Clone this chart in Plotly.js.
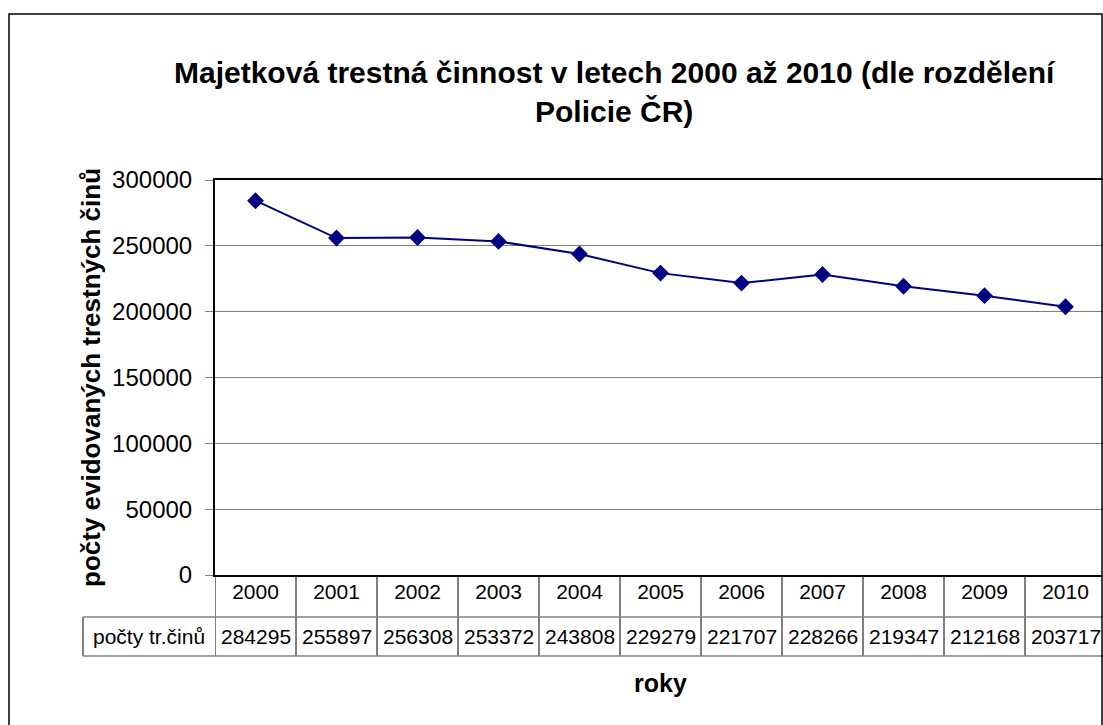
<!DOCTYPE html>
<html>
<head>
<meta charset="utf-8">
<script src="https://cdn.plot.ly/plotly-3.0.1.min.js"></script>
<style>
html,body{margin:0;padding:0;overflow:hidden;background:#fff;}
#chart{width:1103px;height:725px;}
</style>
</head>
<body>
<div id="chart"></div>
<script>
const years = ["2000","2001","2002","2003","2004","2005","2006","2007","2008","2009","2010"];
const crimes = [284295,255897,256308,253372,243808,229279,221707,228266,219347,212168,203717];
const rowLabel = "počty tr.činů";
const titleText = "Majetková trestná činnost v letech 2000 až 2010 (dle rozdělení<br>Policie ČR)";
const yTitle = "počty evidovaných trestných činů";
const xTitle = "roky";

const FONT = "Liberation Sans, Arial, sans-serif";
const plotTop = 180, plotBottom = 575, plotLeft = 215;
const plotH = plotBottom - plotTop;
const py = p => (plotBottom - p) / plotH; // pixel row -> paper y
const plotW = 1103 - plotLeft;
const px = p => (p - plotLeft) / plotW;

const shapes = [];
const annotations = [];
const row1Bottom = py(617), row2Bottom = py(656);

// vertical cell borders
for (let i = 0; i <= years.length; i++) {
  shapes.push({type:'line', xref:'x', yref:'paper', x0:i-0.5, x1:i-0.5, y0:0, y1:row2Bottom,
    line:{color:'#000', width:1}});
}
// label cell left border
shapes.push({type:'line', xref:'paper', yref:'paper', x0:px(83), x1:px(83), y0:row1Bottom, y1:row2Bottom, line:{color:'#000', width:1}});
// horizontal row borders
shapes.push({type:'line', xref:'paper', yref:'paper', x0:px(83), x1:1.01, y0:row1Bottom, y1:row1Bottom, line:{color:'#808080', width:1.5}});
shapes.push({type:'line', xref:'paper', yref:'paper', x0:px(83), x1:1.01, y0:row2Bottom, y1:row2Bottom, line:{color:'#808080', width:1.5}});
// outer chart frame
shapes.push({type:'rect', xref:'paper', yref:'paper', x0:px(9), x1:px(1102), y0:py(14), y1:py(760),
  line:{color:'#000', width:1.5}, fillcolor:'rgba(0,0,0,0)'});

// value row
crimes.forEach((v, i) => {
  annotations.push({xref:'x', yref:'paper', x:i, y:(row1Bottom+row2Bottom)/2, text:String(v),
    showarrow:false, font:{family:FONT, size:21, color:'#000'}, xanchor:'center', yanchor:'middle'});
});
annotations.push({xref:'paper', yref:'paper', x:px(149), y:(row1Bottom+row2Bottom)/2, text:rowLabel,
  showarrow:false, font:{family:FONT, size:21, color:'#000'}, xanchor:'center', yanchor:'middle'});
// title
annotations.push({xref:'paper', yref:'paper', x:px(615), y:py(92), text:'<b>'+titleText+'</b>',
  showarrow:false, font:{family:FONT, size:30, color:'#000'}, xanchor:'center', yanchor:'middle', align:'center'});
// axis titles
annotations.push({xref:'paper', yref:'paper', x:px(660), y:py(683), text:'<b>'+xTitle+'</b>',
  showarrow:false, font:{family:FONT, size:25, color:'#000'}, xanchor:'center', yanchor:'middle'});
annotations.push({xref:'paper', yref:'paper', x:px(91), y:py(378), text:'<b>'+yTitle+'</b>', textangle:-90,
  showarrow:false, font:{family:FONT, size:26, color:'#000'}, xanchor:'center', yanchor:'middle'});

const trace = {
  x: years, y: crimes, type:'scatter', mode:'lines+markers',
  line:{color:'#000080', width:2},
  marker:{symbol:'diamond', size:13, color:'#000080'},
  hoverinfo:'skip', cliponaxis:false
};

const layout = {
  width:1103, height:725, autosize:false,
  margin:{l:plotLeft, r:0, t:plotTop, b:725-plotBottom, pad:0},
  paper_bgcolor:'#fff', plot_bgcolor:'#fff',
  showlegend:false,
  xaxis:{type:'category', range:[-0.5, 10.463], showgrid:false, zeroline:false,
    showline:true, linecolor:'#000', linewidth:2, mirror:true,
    ticks:'', tickfont:{family:FONT, size:21, color:'#000'}, ticklabelstandoff:-3,
    fixedrange:true},
  yaxis:{range:[0,300000], dtick:50000, tick0:0, tickformat:'d', showgrid:true, gridcolor:'#808080', gridwidth:1,
    zeroline:false, showline:true, linecolor:'#000', linewidth:2, mirror:true,
    ticks:'outside', ticklen:8, tickcolor:'#808080', tickwidth:1,
    tickfont:{family:FONT, size:24, color:'#000'}, ticklabelstandoff:8, fixedrange:true},
  shapes: shapes,
  annotations: annotations
};

Plotly.newPlot('chart', [trace], layout, {displayModeBar:false, staticPlot:true});
</script>
</body>
</html>
